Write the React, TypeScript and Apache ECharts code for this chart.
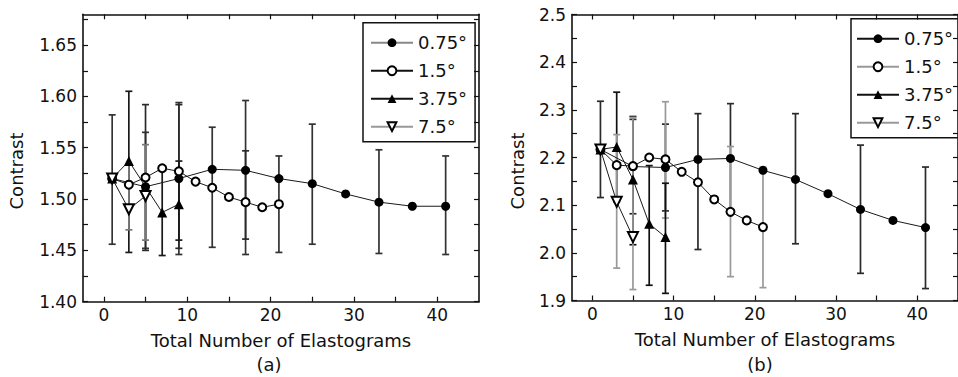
import React, { useEffect, useRef } from 'react';
import * as echarts from 'echarts';

// ---- data ----
const x075 = [1, 5, 9, 13, 17, 21, 25, 29, 33, 37, 41];
const x15 = [1, 3, 5, 7, 9, 11, 13, 15, 17, 19, 21];
const x375 = [1, 3, 5, 7, 9];
const x75 = [1, 3, 5];

// panel (a)
const a075 = [1.520, 1.512, 1.520, 1.529, 1.528, 1.520, 1.515, 1.505, 1.497, 1.493, 1.493];
const a15 = [1.520, 1.514, 1.521, 1.530, 1.527, 1.517, 1.511, 1.502, 1.497, 1.492, 1.495];
const a375 = [1.520, 1.537, 1.512, 1.487, 1.495];
const a75 = [1.520, 1.490, 1.503];

// panel (b)
const b075 = [2.217, 2.181, 2.179, 2.196, 2.198, 2.173, 2.154, 2.124, 2.091, 2.068, 2.053];
const b15 = [2.217, 2.184, 2.182, 2.200, 2.196, 2.170, 2.148, 2.112, 2.086, 2.068, 2.054];
const b375 = [2.217, 2.222, 2.154, 2.061, 2.033];
const b75 = [2.217, 2.107, 2.033];

// error bars: [x, low, high]
const errA075 = [[1, 1.456, 1.582], [5, 1.452, 1.565], [9, 1.446, 1.594], [13, 1.453, 1.570], [17, 1.446, 1.596], [21, 1.448, 1.542], [25, 1.456, 1.573], [33, 1.447, 1.548], [41, 1.446, 1.542]];
const errA15 = [[5, 1.450, 1.592], [9, 1.452, 1.592], [17, 1.461, 1.547]];
const errA375 = [[3, 1.448, 1.605], [7, 1.445, 1.529], [9, 1.460, 1.537]];
const errA75 = [[3, 1.470, 1.533], [5, 1.460, 1.553]];

const errB075 = [[1, 2.116, 2.318], [5, 2.082, 2.280], [9, 2.088, 2.270], [13, 2.007, 2.292], [17, 2.082, 2.313], [25, 2.019, 2.292], [33, 1.957, 2.226], [41, 1.925, 2.180]];
const errB15 = [[9, 2.073, 2.317], [17, 1.950, 2.223], [21, 1.927, 2.180]];
const errB375 = [[3, 2.107, 2.337], [5, 2.017, 2.286], [7, 1.932, 2.183], [9, 1.915, 2.146]];
const errB75 = [[3, 1.968, 2.248], [5, 1.923, 2.284]];

// ticks
const xTickLabels = [0, 10, 20, 30, 40];
const xTickMarks = [0, 5, 10, 15, 20, 25, 30, 35, 40];
const yLabelsA = [1.40, 1.45, 1.50, 1.55, 1.60, 1.65];
const yMarksA = [1.40, 1.425, 1.45, 1.475, 1.50, 1.525, 1.55, 1.575, 1.60, 1.625, 1.65, 1.675];
const yLabelsB = [1.9, 2.0, 2.1, 2.2, 2.3, 2.4, 2.5];
const yMarksB = [1.9, 1.95, 2.0, 2.05, 2.1, 2.15, 2.2, 2.25, 2.3, 2.35, 2.4, 2.45, 2.5];

const FONT = 'DejaVu Sans';
const INK = '#111';

function App() {
  const ref = useRef<HTMLDivElement>(null);

  useEffect(() => {
    if (!ref.current) return;
    const chart = echarts.init(ref.current, undefined, { renderer: 'svg' });

    const axisLine = { show: true, onZero: false, lineStyle: { color: INK, width: 1.6 } };
    const tickStyle = { color: INK, width: 1.2 };
    const xAxisPair = (grid: number, min: number, max: number) => [
      {
        type: 'value', gridIndex: grid, position: 'bottom', min, max,
        axisLine, splitLine: { show: false },
        axisTick: { show: true, inside: true, length: 5, customValues: xTickMarks, lineStyle: tickStyle },
        axisLabel: { show: true, customValues: xTickLabels, margin: 5, fontSize: 17, fontFamily: FONT, color: INK },
        name: 'Total Number of Elastograms', nameLocation: 'middle', nameGap: 30,
        nameTextStyle: { fontSize: 18, fontFamily: FONT, color: INK },
      },
      {
        type: 'value', gridIndex: grid, position: 'top', min, max,
        axisLine, splitLine: { show: false },
        axisTick: { show: true, inside: true, length: 5, customValues: xTickMarks, lineStyle: tickStyle },
        axisLabel: { show: false },
      },
    ];
    const yAxisPair = (grid: number, min: number, max: number, labels: number[], marks: number[], dec: number) => [
      {
        type: 'value', gridIndex: grid, position: 'left', min, max,
        axisLine, splitLine: { show: false },
        axisTick: { show: true, inside: true, length: 5, customValues: marks, lineStyle: tickStyle },
        axisLabel: { show: true, customValues: labels, margin: 6, fontSize: 17, fontFamily: FONT, color: INK, formatter: (v: number) => v.toFixed(dec) },
      },
      {
        type: 'value', gridIndex: grid, position: 'right', min, max,
        axisLine, splitLine: { show: false },
        axisTick: { show: true, inside: true, length: 5, customValues: marks, lineStyle: tickStyle },
        axisLabel: { show: false },
      },
    ];

    const lineSeries = (name: string, xs: number[], ys: number[], xi: number, yi: number, symbol: string, size: number, rotate = 0) => ({
      type: 'line', name, xAxisIndex: xi, yAxisIndex: yi,
      data: xs.map((x, i) => [x, ys[i]]),
      symbol, symbolSize: size, symbolRotate: rotate,
      lineStyle: { color: '#1a1a1a', width: 1 },
      itemStyle: { color: '#000', borderWidth: 1.2 },
      z: 3, silent: true,
    });

    const errSeries = (name: string, data: number[][], xi: number, yi: number, color: string) => ({
      type: 'custom', name, xAxisIndex: xi, yAxisIndex: yi, data,
      encode: { x: 0, y: [1, 2] }, z: 1, silent: true,
      renderItem: (_p: any, api: any) => {
        const x = api.value(0);
        const lo = api.coord([x, api.value(1)]);
        const hi = api.coord([x, api.value(2)]);
        const c = 3.5;
        const st = { stroke: color, lineWidth: 1.7 };
        return {
          type: 'group',
          children: [
            { type: 'line', shape: { x1: lo[0], y1: lo[1], x2: hi[0], y2: hi[1] }, style: st },
            { type: 'line', shape: { x1: lo[0] - c, y1: lo[1], x2: lo[0] + c, y2: lo[1] }, style: st },
            { type: 'line', shape: { x1: hi[0] - c, y1: hi[1], x2: hi[0] + c, y2: hi[1] }, style: st },
          ],
        };
      },
    });

    const legendBase = {
      orient: 'vertical', itemWidth: 42, itemHeight: 11, itemGap: 8,
      borderColor: INK, borderWidth: 1.5, borderRadius: 0,
      selectedMode: false,
      textStyle: { fontSize: 18, fontFamily: FONT, color: INK, lineHeight: 20 },
      formatter: (n: string) => n.slice(1) + '°',
    };

    const option: any = {
      animation: false,
      backgroundColor: '#fff',
      grid: [
        { left: 83, top: 14.3, width: 396, height: 287.4 },
        { left: 572, top: 14.5, width: 390, height: 286 },
      ],
      xAxis: [...xAxisPair(0, -2.5, 45), ...xAxisPair(1, -2.5, 45)],
      yAxis: [
        ...yAxisPair(0, 1.40, 1.68, yLabelsA, yMarksA, 2),
        ...yAxisPair(1, 1.9, 2.5, yLabelsB, yMarksB, 1),
      ],
      legend: [
        {
          ...legendBase, left: 363, top: 22.7, padding: [10, 8, 5, 7],
          data: [
            { name: 'a0.75', lineStyle: { color: '#888' } },
            { name: 'a1.5', lineStyle: { color: '#111' } },
            { name: 'a3.75', lineStyle: { color: '#111' } },
            { name: 'a7.5', lineStyle: { color: '#999' } },
          ],
        },
        {
          ...legendBase, left: 851, top: 18.7, padding: [10, 8, 5, 5],
          data: [
            { name: 'b0.75', lineStyle: { color: '#111' } },
            { name: 'b1.5', lineStyle: { color: '#999' } },
            { name: 'b3.75', lineStyle: { color: '#111' } },
            { name: 'b7.5', lineStyle: { color: '#999' } },
          ],
        },
      ],
      graphic: [
        { type: 'text', x: 16, y: 171, rotation: Math.PI / 2, style: { text: 'Contrast', fontSize: 18, fontFamily: FONT, fill: INK, textAlign: 'center', textVerticalAlign: 'middle' } },
        { type: 'text', x: 517, y: 171, rotation: Math.PI / 2, style: { text: 'Contrast', fontSize: 18, fontFamily: FONT, fill: INK, textAlign: 'center', textVerticalAlign: 'middle' } },
        { type: 'text', x: 269, y: 364, style: { text: '(a)', fontSize: 18, fontFamily: FONT, fill: INK, textAlign: 'center', textVerticalAlign: 'middle' } },
        { type: 'text', x: 760, y: 364, style: { text: '(b)', fontSize: 18, fontFamily: FONT, fill: INK, textAlign: 'center', textVerticalAlign: 'middle' } },
      ],
      series: [
        errSeries('eA075', errA075, 0, 0, '#333'),
        errSeries('eA15', errA15, 0, 0, '#2a2a2a'),
        errSeries('eA375', errA375, 0, 0, '#1a1a1a'),
        errSeries('eA75', errA75, 0, 0, '#777'),
        errSeries('eB075', errB075, 2, 2, '#2a2a2a'),
        errSeries('eB15', errB15, 2, 2, '#999'),
        errSeries('eB375', errB375, 2, 2, '#111'),
        errSeries('eB75', errB75, 2, 2, '#999'),
        lineSeries('a0.75', x075, a075, 0, 0, 'circle', 9),
        lineSeries('a1.5', x15, a15, 0, 0, 'emptyCircle', 8),
        lineSeries('a3.75', x375, a375, 0, 0, 'triangle', 10),
        lineSeries('a7.5', x75, a75, 0, 0, 'emptyTriangle', 10, 180),
        lineSeries('b0.75', x075, b075, 2, 2, 'circle', 9),
        lineSeries('b1.5', x15, b15, 2, 2, 'emptyCircle', 8),
        lineSeries('b3.75', x375, b375, 2, 2, 'triangle', 10),
        lineSeries('b7.5', x75, b75, 2, 2, 'emptyTriangle', 10, 180),
      ],
    };
    chart.setOption(option);
    return () => chart.dispose();
  }, []);

  return <div ref={ref} style={{ position: 'fixed', left: 0, top: 0, width: 958, height: 377, background: '#fff' }} />;
}

export default App;
